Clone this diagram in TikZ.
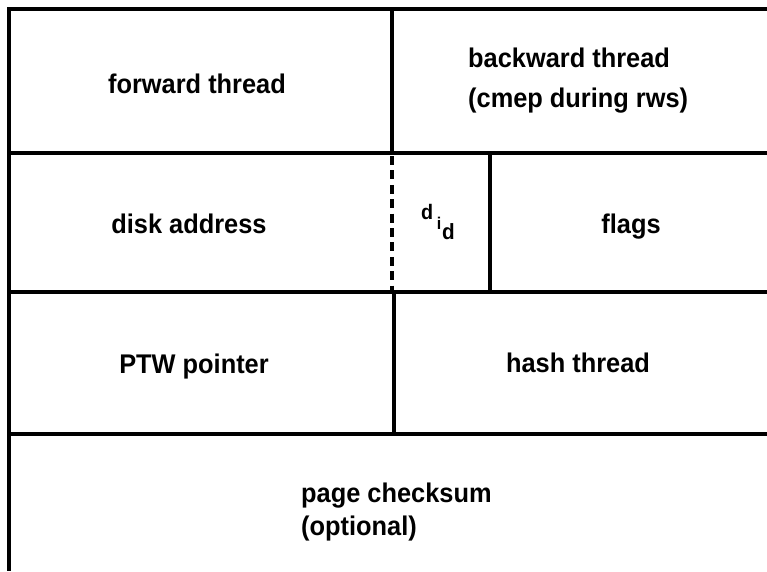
\documentclass[tikz,border=0pt]{standalone}
\usepackage{fontspec}
\setmainfont{Liberation Sans}[FakeStretch=0.94]
\begin{document}
\begin{tikzpicture}[x=1pt, y=-1pt,
  rule/.style={line width=4.5pt, line cap=butt},
  dashrule/.style={line width=4.5pt, dash pattern=on 9pt off 5.4pt},
  lbl/.style={font=\fontsize{27}{30}\selectfont\bfseries, inner sep=0pt},
  lbltwo/.style={lbl, align=left, anchor=north west}]
\useasboundingbox (0,0) rectangle (767,571);

% frame corners and row boundaries
\coordinate (tl) at (9,9);
\coordinate (tr) at (767,9);
\coordinate (bl) at (9,571);
\coordinate (r1l) at (9,153);   \coordinate (r1r) at (767,153);
\coordinate (r2l) at (9,292);   \coordinate (r2r) at (767,292);
\coordinate (r3l) at (9,434);   \coordinate (r3r) at (767,434);

% column boundaries
\coordinate (c1t) at (392,9);   \coordinate (c1b) at (392,153);
\coordinate (dt)  at (392,156); \coordinate (db)  at (392,291);
\coordinate (c2t) at (490,153); \coordinate (c2b) at (490,292);
\coordinate (c3t) at (394,292); \coordinate (c3b) at (394,434);

% outer frame (open to the right and bottom)
\draw[rule] (tr) -- (tl) -- (bl);
\draw[rule] (r1l) -- (r1r);
\draw[rule] (r2l) -- (r2r);
\draw[rule] (r3l) -- (r3r);

% field separators
\draw[rule] (c1t) -- (c1b);
\draw[dashrule] (dt) -- (db);
\draw[rule] (c2t) -- (c2b);
\draw[rule] (c3t) -- (c3b);

% field labels
\node[lbl, anchor=base] (fwd) at (197,93) {forward thread};
\node[lbltwo, font=\fontsize{27}{40}\selectfont\bfseries] (bwd) at (468,47.3)
  {backward thread\\(cmep during rws)};
\node[lbl, anchor=base] (disk) at (189,233) {disk address};
\node[lbl, anchor=base] (flags) at (631,233) {flags};
\node[lbl, anchor=base west] (did) at (421,219)
  {\fontsize{21}{21}\selectfont d\kern3.5pt\raisebox{-10pt}{\fontsize{17}{17}\selectfont i\kern1pt\raisebox{-10pt}{\fontsize{22}{22}\selectfont d}}};
\node[lbl, anchor=base] (ptw) at (194,373) {PTW pointer};
\node[lbl, anchor=base] (hash) at (578,372) {hash thread};
\node[lbltwo, font=\fontsize{27}{33}\selectfont\bfseries] (cksum) at (301,482.3)
  {page checksum\\(optional)};
\end{tikzpicture}
\end{document}
